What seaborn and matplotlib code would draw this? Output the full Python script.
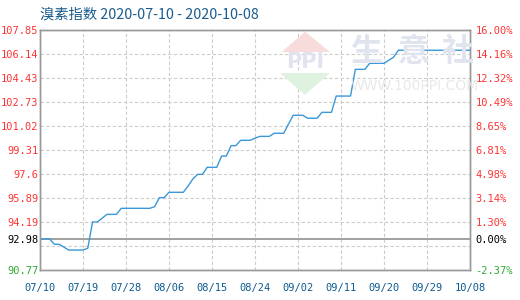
import numpy as np
import pandas as pd
import matplotlib
matplotlib.use("Agg")
import matplotlib.pyplot as plt
import matplotlib.dates as mdates
from matplotlib.patches import Polygon
import seaborn as sns

# ---- data ----
start_date = "2020-07-10"
values = [92.98, 92.98, 92.98, 92.60, 92.60, 92.40, 92.19, 92.19, 92.19, 92.19,
          92.32, 94.19, 94.19, 94.45, 94.73, 94.73, 94.73, 95.16, 95.16, 95.16,
          95.16, 95.16, 95.16, 95.16, 95.28, 95.92, 95.92, 96.30, 96.30, 96.30,
          96.30, 96.75, 97.25, 97.58, 97.58, 98.08, 98.08, 98.08, 98.88, 98.88,
          99.62, 99.62, 100.00, 100.00, 100.00, 100.15, 100.28, 100.28, 100.28, 100.50,
          100.50, 100.50, 101.15, 101.78, 101.78, 101.78, 101.57, 101.57, 101.57, 101.99,
          101.99, 101.99, 103.15, 103.15, 103.15, 103.15, 105.05, 105.05, 105.05, 105.48,
          105.48, 105.48, 105.48, 105.70, 105.91, 106.41, 106.41, 106.41, 106.41, 106.41,
          106.41, 106.41, 106.41, 106.41, 106.41, 106.41, 106.41, 106.41, 106.41, 106.41,
          106.41]
base_value = 92.98
y_ticks = [90.77, 92.478, 94.19, 95.89, 97.6, 99.31, 101.02, 102.73, 104.43, 106.14, 107.85]
y_labels = ["90.77", "", "94.19", "95.89", "97.6", "99.31", "101.02", "102.73", "104.43", "106.14", "107.85"]
pct_labels = ["-2.37%", "", "1.30%", "3.14%", "4.98%", "6.81%", "8.65%", "10.49%", "12.32%", "14.16%", "16.00%"]
x_tick_labels = ["07/10", "07/19", "07/28", "08/06", "08/15", "08/24", "09/02", "09/11", "09/20", "09/29", "10/08"]
title = "溴素指数 2020-07-10 - 2020-10-08"

dates = pd.date_range(start_date, periods=len(values), freq="D")
df = pd.DataFrame({"date": dates, "value": values})
x_tick_dates = [pd.Timestamp(f"2020-{s.replace('/', '-')}") for s in x_tick_labels]

# ---- style ----
sns.set_style("white")
plt.rcParams["font.family"] = ["DejaVu Sans Mono", "Noto Sans CJK SC"]

fig = plt.figure(figsize=(5.2, 3.0), dpi=100)
ax = fig.add_axes([40/520, 30/300, 430/520, 240/300])

red = "#ff3333"
green = "#33aa33"
blue_txt = "#0d5a8f"

# watermark
wm_color = "#dfe4ee"
fig.patches.append(Polygon([[281.7/520, 1-52/300], [305/520, 1-31.7/300], [330/520, 1-52/300]],
                           closed=True, transform=fig.transFigure, facecolor="#f8dcdc",
                           edgecolor="none", zorder=0))
fig.patches.append(Polygon([[280/520, 1-73/300], [330/520, 1-73/300], [305/520, 1-95/300]],
                           closed=True, transform=fig.transFigure, facecolor="#dff2df",
                           edgecolor="none", zorder=0))
fig.text(305/520, 1-62/300, "PPI", fontsize=15, color=wm_color, ha="center", va="center",
         family="DejaVu Sans", fontweight="bold", zorder=0)
for ch, cx in zip("生意社", [366, 414, 458]):
    fig.text(cx/520, 1-52/300, ch, fontsize=23, color=wm_color, ha="center", va="center",
             family="Noto Sans CJK SC", fontweight="bold", zorder=0)
fig.text(415/520, 1-86/300, "WWW.100PPI.COM", fontsize=10, color="#e8e8e8", ha="center",
         va="center", family="DejaVu Sans", zorder=0)
ax.patch.set_alpha(0)

sns.lineplot(data=df, x="date", y="value", ax=ax, color="#3a98d8", linewidth=1.0, zorder=3)

ax.axhline(base_value, color="#999999", linewidth=1.3, zorder=2)

ax.set_xlim(dates[0], dates[-1])
ax.set_ylim(y_ticks[0], y_ticks[-1])
ax.set_xticks(x_tick_dates)
ax.set_xticklabels(x_tick_labels)
ax.set_yticks(y_ticks)
ax.set_yticklabels(y_labels)
ax.set_yticks([base_value], minor=True)
ax.set_yticklabels([f"{base_value:.2f}"], minor=True)
ax.set_xlabel("")
ax.set_ylabel("")

grid_kw = dict(color="#cccccc", linestyle=(0, (3, 2)), linewidth=0.8)
ax.grid(True, which="major", **grid_kw)
ax.grid(False, which="minor")
ax.set_axisbelow(True)

ax.tick_params(axis="both", which="both", length=0, labelsize=7.5)
ax.tick_params(axis="y", which="both", pad=1)
ax.tick_params(axis="x", pad=9)
for lbl in ax.get_yticklabels():
    lbl.set_color(red)
ax.get_yticklabels()[0].set_color(green)
for lbl in ax.get_yticklabels(minor=True):
    lbl.set_color("black")
for lbl in ax.get_xticklabels():
    lbl.set_color(blue_txt)

for s in ax.spines.values():
    s.set_color("#999999")
    s.set_linewidth(1.0)

ax2 = ax.twinx()
ax2.set_ylim(ax.get_ylim())
ax2.set_yticks(y_ticks)
ax2.set_yticklabels(pct_labels)
ax2.set_yticks([base_value], minor=True)
ax2.set_yticklabels(["0.00%"], minor=True)
ax2.tick_params(axis="y", which="both", length=0, labelsize=7.5, pad=4)
for lbl in ax2.get_yticklabels():
    lbl.set_color(red)
ax2.get_yticklabels()[0].set_color(green)
for lbl in ax2.get_yticklabels(minor=True):
    lbl.set_color("black")
for s in ax2.spines.values():
    s.set_color("#999999")
    s.set_linewidth(1.0)
ax2.grid(False)

fig.text(40/520, 1-15/300, title, fontsize=10.3, color="#1a5c8e", ha="left", va="center",
         family=["Noto Sans CJK SC", "DejaVu Sans"])

fig.savefig("out.png", dpi=100)
